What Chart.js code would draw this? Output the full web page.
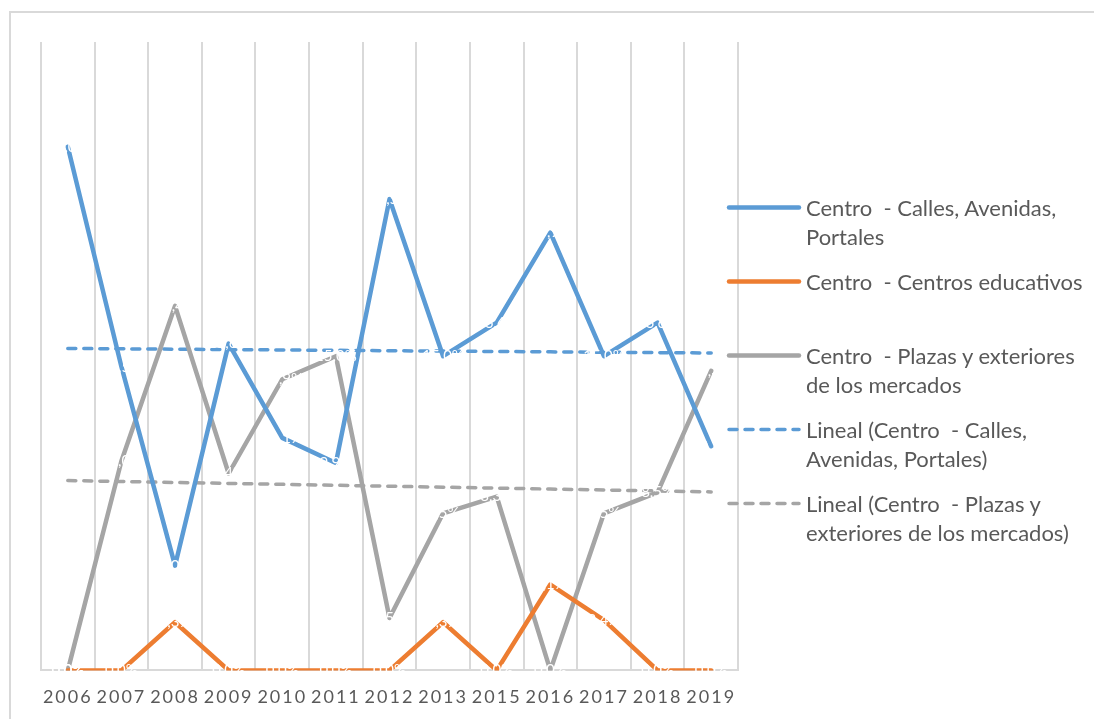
<!DOCTYPE html>
<html>
<head>
<meta charset="utf-8">
<script src="https://cdn.jsdelivr.net/npm/chart.js@4/dist/chart.umd.min.js"></script>
<style>
html,body{margin:0;padding:0;background:#fff;overflow:hidden;}
#wrap{position:relative;width:1094px;height:719px;}
#frame{position:absolute;left:9px;top:11px;width:1100px;height:720px;border:2px solid #d9d9d9;box-sizing:border-box;}
#c{position:absolute;left:0;top:0;}
#legend{position:absolute;left:726px;top:193px;width:368px;font-family:Lato,"Open Sans",sans-serif;font-size:22px;color:#595959;}
.item{position:relative;height:74px;}
.item svg{position:absolute;left:0;top:6px;}
.item span{position:absolute;left:80px;top:0;width:285px;line-height:29px;white-space:pre-wrap;}
</style>
</head>
<body>
<div id="wrap">
  <div id="frame"></div>
  <canvas id="c" width="1094" height="719"></canvas>
  <div id="legend"></div>
</div>
<script>
// ---- data ----
const years = ['2006','2007','2008','2009','2010','2011','2012','2013','2015','2016','2017','2018','2019'];
const calles = [25.0, 14.5, 5.0, 15.6, 11.1, 9.9, 22.5, 15.0, 16.6, 20.9, 15.0, 16.6, 10.7];
const educativos = [0, 0, 2.3, 0, 0, 0, 0, 2.3, 0, 4.1, 2.4, 0, 0];
const plazas = [0, 10.0, 17.4, 9.4, 13.9, 15.0, 2.5, 7.5, 8.3, 0, 7.5, 8.5, 14.3];
const seriesNames = [
  'Centro  - Calles, Avenidas, Portales',
  'Centro  - Centros educativos',
  'Centro  - Plazas y exteriores de los mercados'
];

// linear trendline (least squares) derived from a series
function linearTrend(vals){
  const n = vals.length;
  let sx=0, sy=0, sxy=0, sxx=0;
  vals.forEach((v,i)=>{ const x=i+1; sx+=x; sy+=v; sxy+=x*v; sxx+=x*x; });
  const b = (n*sxy - sx*sy)/(n*sxx - sx*sx);
  const a = (sy - b*sx)/n;
  return vals.map((_,i)=> a + b*(i+1));
}

const BLUE='#5B9BD5', ORANGE='#ED7D31', GRAY='#A5A5A5';

const labelPlugin = {
  id:'whiteLabels',
  beforeDraw(chart){ chart.ctx.letterSpacing='2px'; },
  afterDatasetsDraw(chart){
    const ctx = chart.ctx;
    ctx.save();
    ctx.letterSpacing='0px';
    ctx.fillStyle='#ffffff';
    ctx.font='15px Lato';
    ctx.textAlign='center';
    ctx.textBaseline='middle';
    chart.data.datasets.forEach((ds,di)=>{
      if(!ds.showLabels) return;
      const meta = chart.getDatasetMeta(di);
      meta.data.forEach((pt,i)=>{
        const v = ds.data[i];
        ctx.fillText(v.toFixed(1).replace('.',',')+'%', pt.x, pt.y);
      });
    });
    ctx.restore();
  }
};

const chart = new Chart(document.getElementById('c'), {
  type:'line',
  data:{
    labels: years,
    datasets:[
      {label:seriesNames[0], data:calles, borderColor:BLUE, borderWidth:4.5, pointRadius:0, tension:0, showLabels:true},
      {label:seriesNames[1], data:educativos, borderColor:ORANGE, borderWidth:4.5, pointRadius:0, tension:0, showLabels:true},
      {label:seriesNames[2], data:plazas, borderColor:GRAY, borderWidth:4.5, pointRadius:0, tension:0, showLabels:true},
      {label:'Lineal ('+seriesNames[0]+')', data:linearTrend(calles), borderColor:BLUE, borderWidth:3.5, borderDash:[8,8], borderCapStyle:'round', pointRadius:0},
      {label:'Lineal ('+seriesNames[2]+')', data:linearTrend(plazas), borderColor:GRAY, borderWidth:3.5, borderDash:[8,8], borderCapStyle:'round', pointRadius:0}
    ]
  },
  options:{
    responsive:false,
    animation:false,
    elements:{line:{borderJoinStyle:'round', borderCapStyle:'round'}},
    layout:{padding:{left:41, right:356, top:42, bottom:-5}},
    plugins:{legend:{display:false}, tooltip:{enabled:false}},
    scales:{
      x:{
        offset:true,
        grid:{display:true, offset:true, color:'#d9d9d9', lineWidth:2, drawTicks:false},
        border:{display:true, color:'#d9d9d9', width:2},
        ticks:{color:'#595959', font:{family:'Lato', size:18}, padding:16, maxRotation:0, autoSkip:false}
      },
      y:{display:false, min:0, max:30}
    }
  },
  plugins:[labelPlugin]
});

// HTML legend built from the chart's datasets
const leg = document.getElementById('legend');
chart.data.datasets.forEach(ds=>{
  const item = document.createElement('div');
  item.className='item';
  const dash = ds.borderDash ? 'stroke-dasharray="8 8"' : '';
  item.innerHTML = '<svg width="80" height="20"><line x1="3" y1="8.5" x2="73" y2="8.5" stroke="'+ds.borderColor+'" stroke-width="'+(ds.borderDash?3.5:4.5)+'" stroke-linecap="round" '+dash+'/></svg>';
  const sp = document.createElement('span');
  sp.textContent = ds.label;
  item.appendChild(sp);
  leg.appendChild(item);
});
</script>
</body>
</html>
